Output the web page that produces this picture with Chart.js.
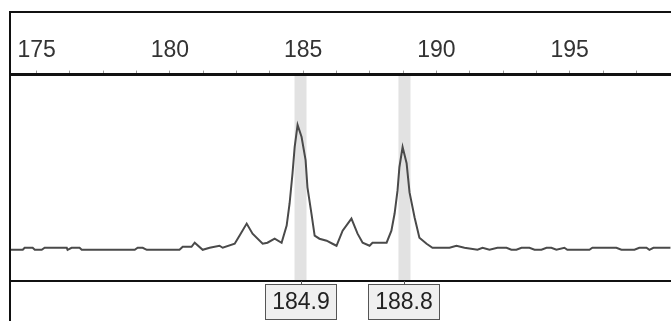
<!DOCTYPE html>
<html>
<head>
<meta charset="utf-8">
<script src="https://cdn.jsdelivr.net/npm/chart.js@4.4.0/dist/chart.umd.min.js"></script>
<style>
  body { margin: 0; background: #fff; }
  #wrap { width: 671px; height: 321px; position: relative; }
</style>
</head>
<body>
<div id="wrap"><canvas id="trace"></canvas></div>
<script>
// fragment sizes (x) and signal heights (y)
const sizes = [
  173.99, 174.48, 174.55, 174.85, 174.93, 175.19, 175.30, 176.13, 176.16, 176.31,
  176.61, 176.69, 178.68, 178.79, 178.98, 179.13, 180.36, 180.48, 180.81, 180.93,
  181.23, 181.49, 181.86, 181.98, 182.43, 182.61, 182.88, 183.10, 183.48, 183.66,
  183.93, 184.19, 184.38, 184.49, 184.60, 184.68, 184.79, 184.94, 185.09, 185.16,
  185.31, 185.43, 185.61, 185.88, 186.10, 186.25, 186.48, 186.81, 187.04, 187.23,
  187.49, 187.60, 188.13, 188.31, 188.43, 188.54, 188.61, 188.73, 188.88, 188.99,
  189.18, 189.36, 189.63, 189.85, 190.49, 190.75, 191.05, 191.54, 191.73, 191.99,
  192.29, 192.63, 192.81, 193.00, 193.19, 193.49, 193.68, 193.94, 194.13, 194.31,
  194.50, 194.80, 194.91, 195.74, 195.85, 196.75, 196.94, 197.43, 197.61, 197.88,
  197.99, 198.14, 198.78
];
const signal = [
  31, 31, 33, 33, 31, 31, 33, 33, 31, 33,
  33, 31, 31, 33, 33, 31, 31, 34, 34, 38,
  31, 33, 35, 33, 37, 45, 57, 47, 37, 38,
  42, 38, 55, 77, 107, 133, 155, 143, 120, 93,
  67, 45, 42, 40, 37, 35, 50, 62, 47, 38,
  35, 38, 38, 50, 67, 90, 113, 133, 117, 88,
  63, 43, 37, 33, 33, 35, 33, 31, 33, 31,
  33, 33, 31, 31, 33, 33, 31, 31, 33, 33,
  31, 33, 31, 31, 33, 33, 31, 31, 33, 33,
  31, 33, 33
];
const peakSizes = [184.9, 188.8];
const peakLabels = ['184.9', '188.8'];
const labelStep = 5;

const fontFamily = '"Liberation Sans", Arial, sans-serif';

const overlay = {
  id: 'overlay',
  beforeDraw(chart) {
    const { ctx, chartArea: a, scales: { x } } = chart;
    ctx.save();
    // grey bands behind the called peaks
    ctx.fillStyle = '#e2e2e2';
    peakSizes.forEach(p => {
      const px = x.getPixelForValue(p);
      ctx.fillRect(px - 6, a.top, 12, a.bottom - a.top);
    });
    ctx.restore();
  },
  afterDraw(chart) {
    const { ctx, chartArea: a, scales: { x } } = chart;
    const w = chart.width, h = chart.height;
    ctx.save();
    // outer frame (top and left)
    ctx.fillStyle = '#111';
    ctx.fillRect(9, 11, w - 9, 2);
    ctx.fillRect(9, 11, 2, h - 11);
    // bottom line of the trace panel
    ctx.fillRect(9, a.bottom - 1, w - 9, 2);
    // size labels under the peaks
    ctx.font = '23px ' + fontFamily;
    ctx.textAlign = 'center';
    ctx.textBaseline = 'middle';
    peakSizes.forEach((p, i) => {
      const px = Math.round(x.getPixelForValue(p));
      const bw = Math.round(ctx.measureText(peakLabels[i]).width + 14);
      const top = a.bottom + 3;
      ctx.strokeStyle = '#555';
      ctx.lineWidth = 1;
      ctx.beginPath();
      ctx.moveTo(px + 0.5, a.bottom);
      ctx.lineTo(px + 0.5, top);
      ctx.stroke();
      ctx.fillStyle = '#efefef';
      ctx.fillRect(px - bw / 2, top, bw, 36);
      ctx.strokeRect(px - bw / 2 + 0.5, top + 0.5, bw - 1, 35);
      ctx.fillStyle = '#222';
      ctx.fillText(peakLabels[i], px, top + 19);
    });
    ctx.restore();
  }
};

new Chart(document.getElementById('trace'), {
  type: 'line',
  data: {
    datasets: [{
      data: sizes.map((s, i) => ({ x: s, y: signal[i] })),
      borderColor: '#4a4a4a',
      borderWidth: 2,
      pointRadius: 0,
      tension: 0,
      fill: false
    }]
  },
  options: {
    responsive: true,
    maintainAspectRatio: false,
    animation: false,
    layout: { padding: { top: 31, left: 10, right: 0, bottom: 40 } },
    plugins: { legend: { display: false }, tooltip: { enabled: false } },
    scales: {
      x: {
        type: 'linear',
        position: 'top',
        min: 174,
        max: 198.8,
        // drop the tick that would sit on the right edge
        afterBuildTicks: scale => {
          scale.ticks = scale.ticks.filter(t => t.value < 198.5);
        },
        border: { display: true, color: '#111', width: 3 },
        grid: { drawOnChartArea: false, tickLength: 4, color: '#999' },
        ticks: {
          stepSize: 1.25,
          includeBounds: false,
          autoSkip: false,
          maxRotation: 0,
          minRotation: 0,
          padding: 6,
          color: '#333',
          font: { family: fontFamily, size: 23 },
          callback: v => (Math.abs(v % labelStep) < 1e-6 ? String(v) : '')
        }
      },
      y: {
        display: false,
        min: 0,
        max: 205
      }
    }
  },
  plugins: [overlay]
});
</script>
</body>
</html>
